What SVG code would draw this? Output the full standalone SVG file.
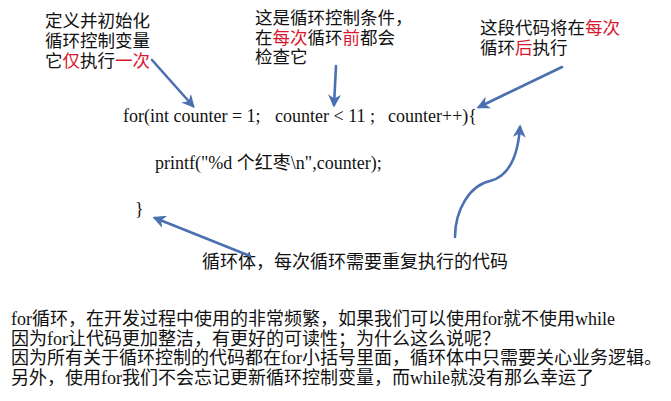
<svg xmlns="http://www.w3.org/2000/svg" width="671" height="401" viewBox="0 0 671 401">
<style>
.cjk{font-family:"Noto Sans CJK SC","Noto Sans",sans-serif;font-size:17.5px;fill:#111}
.red{fill:#d9172f}
.code{font-family:"Liberation Serif","Noto Sans CJK SC",serif;font-size:18px;fill:#111}
.para{font-family:"Liberation Serif","Noto Sans CJK SC",serif;font-size:18px;fill:#111}
.arr{fill:none;stroke:#4a70b2;stroke-width:2.6;stroke-linecap:round;marker-end:url(#ah)}
</style>
<defs>
<marker id="ah" viewBox="0 0 10 10" refX="8" refY="5" markerWidth="5" markerHeight="5" orient="auto" markerUnits="strokeWidth">
<path d="M0,0 L10,5 L0,10 L3,5 Z" fill="#4a70b2"/>
</marker>
</defs>
<rect width="671" height="401" fill="#fff"/>
<g id="label-init">
<text class="cjk"><tspan x="45" y="27">定义并初始化</tspan><tspan x="45" y="47">循环控制变量</tspan><tspan x="45" y="67">它<tspan class="red">仅</tspan>执行<tspan class="red">一次</tspan></tspan></text>
</g>
<g id="label-cond">
<text class="cjk"><tspan x="255" y="24">这是循环控制条件，</tspan><tspan x="255" y="44">在<tspan class="red">每次</tspan>循环<tspan class="red">前</tspan>都会</tspan><tspan x="255" y="63">检查它</tspan></text>
</g>
<g id="label-update">
<text class="cjk"><tspan x="480" y="34">这段代码将在<tspan class="red">每次</tspan></tspan><tspan x="480" y="54">循环<tspan class="red">后</tspan>执行</tspan></text>
</g>
<g id="code">
<text class="code" x="123" y="122">for(int counter = 1;</text>
<text class="code" x="275" y="122">counter &lt; 11 ;</text>
<text class="code" x="388" y="122">counter++){</text>
<text class="code" x="155" y="169">printf("%d 个红枣\n",counter);</text>
<text class="code" x="135" y="215">}</text>
</g>
<g id="label-body">
<text class="cjk" x="202" y="268" style="font-size:18px">循环体，每次循环需要重复执行的代码</text>
</g>
<g id="connectors">
<path class="arr" d="M152,60 L193,106"/>
<path class="arr" d="M336,66 L334,105"/>
<path class="arr" d="M562,67 L479,107"/>
<path class="arr" d="M250,256 L155,218"/>
<path class="arr" d="M455,237 C455,210 470,185 490,181 C510,176 518,155 520,127"/>
</g>
<g id="notes">
<text class="para"><tspan x="11" y="325">for循环，在开发过程中使用的非常频繁，如果我们可以使用for就不使用while</tspan><tspan x="11" y="345">因为for让代码更加整洁，有更好的可读性；为什么这么说呢？</tspan><tspan x="11" y="364">因为所有关于循环控制的代码都在for小括号里面，循环体中只需要关心业务逻辑。</tspan><tspan x="11" y="384">另外，使用for我们不会忘记更新循环控制变量，而while就没有那么幸运了</tspan></text>
</g>
</svg>
